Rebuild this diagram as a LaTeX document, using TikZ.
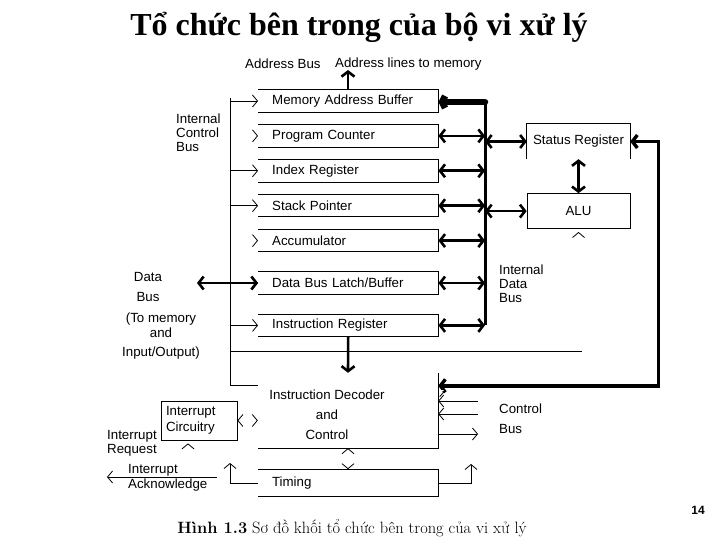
\documentclass[tikz,border=0pt]{standalone}
\usepackage{fontspec}
\newfontfamily\titlefont{Liberation Serif}
\newfontfamily\diagfont{Liberation Sans}
\usepackage{tikz}
\usetikzlibrary{arrows.meta,positioning,calc}
\tikzset{
  txt/.style={font=\diagfont\fontsize{13.3}{14}\selectfont, inner sep=0pt},
  reg/.style={txt, minimum width=180pt, minimum height=22pt, text width=152pt, inner xsep=14pt, align=left, anchor=west},
  dbus/.style={line width=2.6pt, {Straight Barb[length=5pt,width=13pt]}-{Straight Barb[length=5pt,width=13pt]}},
  down/.style={line width=2.6pt, -{Straight Barb[length=5pt,width=13pt]}},
  fb/.style={line width=3.4pt, {Straight Barb[length=5pt,width=13pt]}-{Straight Barb[length=5pt,width=13pt]}},
  mabus/.style={line width=6.5pt, line cap=round, -{Straight Barb[length=3pt,width=12pt]}},
  ctl/.style={line width=0.8pt, -{Straight Barb[length=5pt,width=12pt]}},
  chev/.style={draw=white, line width=0.8pt, -{Straight Barb[length=5pt,width=12pt,color=black]}},
  chevs/.style={draw=white, line width=0.8pt, {Straight Barb[length=5pt,width=12pt,color=black]}-{Straight Barb[length=5pt,width=12pt,color=black]}},
}

\begin{document}
\begin{tikzpicture}[x=1pt, y=-1pt, node distance=12.5pt]
  \fill[white] (0,0) rectangle (720,540);
  \node[font=\titlefont\bfseries\fontsize{32}{36}\selectfont] (title) at (359,27) {Tổ chức bên trong của bộ vi xử lý};
  % registers
  \node[reg] (mab) at (258,101) {Memory Address Buffer};
  \node[reg,below=of mab] (pc) {Program Counter};
  \node[reg,below=of pc] (idx) {Index Register};
  \node[reg,below=of idx] (sp) {Stack Pointer};
  \node[reg,below=of sp] (acc) {Accumulator};
  \node[reg,below=20pt of acc] (dbl) {Data Bus Latch/Buffer};
  \node[reg,below=20pt of dbl] (ins) {Instruction Register};
  \foreach \n in {mab,pc,idx,sp,acc,dbl,ins}{\draw[line width=0.8pt](\n.north west)--(\n.north east)--(\n.south east)--(\n.south west);}
  % decoder and timing
  \node[minimum width=180pt, minimum height=75pt, inner sep=0pt] (dec) at (348,410.5) {};
  \node[txt, align=center, font=\diagfont\fontsize{13.3}{20}\selectfont] (dectxt) at (327,415) {Instruction Decoder\\and\\Control};
  \draw[line width=0.8pt](dec.north east)--(dec.south east)--(dec.south west);
  \node[reg, minimum height=27pt, below=21pt of dec] (tim) {Timing};
  \draw[line width=0.8pt](tim.north west)--(tim.north east)--(tim.south east)--(tim.south west);
  \node[txt, draw, line width=0.8pt, minimum width=76pt, minimum height=39pt, text width=66pt, inner xsep=5pt, align=left, font=\diagfont\fontsize{13.3}{16}\selectfont] (intc) at (199,420.5) {Interrupt\\Circuitry};
  % status register and ALU
  \node[txt, minimum width=103pt, minimum height=35pt] (sr) at (578.5,141.5) {Status Register};
  \draw[line width=0.8pt](sr.south west)--(sr.north west)--(sr.north east)--(sr.south east);
  \node[txt, draw, line width=0.8pt, minimum width=103pt, minimum height=35pt, below=34pt of sr] (alu) {ALU};
  % labels
  \node[txt, anchor=west] (ablbl) at (245,64) {Address Bus};
  \node[txt, anchor=west] (allbl) at (335,64) {Address lines to memory};
  \node[txt, anchor=west, align=left] (icblbl) at (176,133) {Internal\\Control\\Bus};
  \node[txt, anchor=west, align=left] (idblbl) at (499,284) {Internal\\Data\\Bus};
  \node[txt, align=center, font=\diagfont\fontsize{13.3}{20}\selectfont] (dblbl) at (148,287) {Data\\Bus};
  \node[txt, align=center, font=\diagfont\fontsize{13.3}{15}\selectfont] (memlbl) at (161,336) {(To memory\\and\\[4pt]Input/Output)};
  \node[txt, anchor=west, align=left, font=\diagfont\fontsize{13.3}{20}\selectfont] (cblbl) at (499,419) {Control\\Bus};
  \node[txt, anchor=west, align=left] (irqlbl) at (107,443) {Interrupt\\Request};
  \node[txt, anchor=west, align=left, font=\diagfont\fontsize{13.3}{15}\selectfont] (iacklbl) at (128,477.5) {Interrupt\\Acknowledge};
  \node[font=\fontsize{16.4}{18}\selectfont] (cap) at (352,528) {\textbf{Hình 1.3} Sơ đồ khối tổ chức bên trong của vi xử lý};
  \node[font=\diagfont\bfseries\fontsize{12}{14}\selectfont] (pg) at (698,510) {14};
  % bus points
  \coordinate (bt) at (485,102);
  \coordinate (ctop) at (230,98);
  \coordinate (cbot) at (230,385);
  \coordinate (hl) at (582,351);
  \coordinate (aout) at (348,70);
  \coordinate (dext) at (197,283);
  \coordinate (fbin) at ($(dec.north east)+(0,13)$);
  \coordinate (tl) at (230,463);
  \coordinate (tr) at (471,464);
  \coordinate (irq) at (188,450);
  \coordinate (iack) at (217,477);
  \coordinate (iackend) at (107,477);
  % internal data bus
  \draw[line width=3pt] (bt) -- (bt |- ins.east);
  \draw[mabus] (bt) -- (bt -| mab.east);
  \foreach \n in {pc,idx,sp,acc,dbl,ins}{\draw[dbus](\n.east)--(\n.east -| bt);}
  \draw[dbus] (sr.west -| bt) -- (sr.west);
  \draw[dbus] (alu.west -| bt) -- (alu.west);
  \draw[dbus] (sr.south) -- (alu.north);
  \draw[down] (aout |- mab.north) -- (aout);
  \draw[dbus] (dext) -- (dext -| dbl.west);
  \draw[down] (ins.south) -- (dec.north);
  \draw[fb] (sr.east) -- ++(28,0) |- (fbin);
  % internal control bus
  \draw[line width=0.8pt] (ctop) -- (cbot) -- (cbot -| dec.west);
  \draw[line width=0.8pt] (ctop |- hl) -- (hl);
  \foreach \n in {mab,idx,sp,dbl,ins}{\draw[ctl](ctop |- \n.west)--(\n.west);}
  \foreach \n in {pc,acc}{\draw[chev]($(\n.west)+(-5,0)$)--(\n.west);}
  \draw[chev] ($(alu.south)+(0,9)$) -- ($(alu.south)+(0,3)$);
  % control bus
  \draw[chev] ($(dec.north east)+(2,18)$) -- ++(5,0);
  \draw[ctl] (478,401) -- (dec.east |- 0,401);
  \draw[ctl] (478,414) -- (dec.east |- 0,414);
  \draw[ctl] (dec.east |- 0,434) -- (478,434);
  \draw[chevs] (dec.south) -- (tim.north);
  \draw[chevs] (intc.east) -- (dec.west |- intc.east);
  \draw[ctl] (tim.west) -| (tl);
  \draw[ctl] (tim.east) -| (tr);
  \draw[chev, shorten >=3pt] (irq) -- (irq |- intc.south);
  \draw[ctl] (iack) -- (iackend);
\end{tikzpicture}
\end{document}
